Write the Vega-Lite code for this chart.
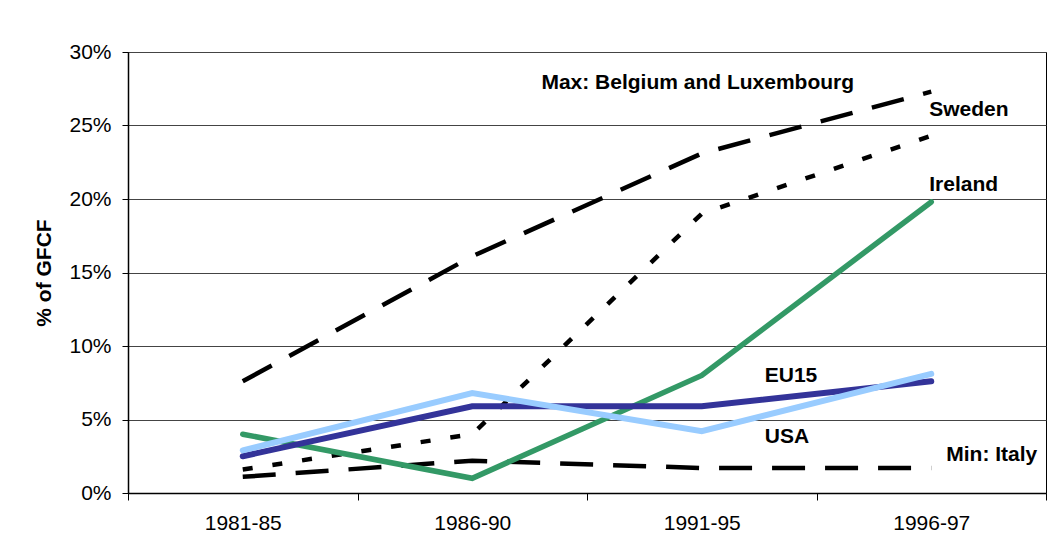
{
  "$schema": "https://vega.github.io/schema/vega-lite/v6.json",
  "width": 918,
  "height": 441,
  "autosize": {"type": "none"},
  "padding": {"left": 128, "top": 52, "right": 7, "bottom": 65},
  "background": "white",
  "config": {
    "font": "Liberation Sans",
    "view": {"stroke": "#000000", "strokeWidth": 1},
    "axis": {"labelFont": "Liberation Sans", "titleFont": "Liberation Sans"}
  },
  "datasets": {
    "series": [
      {"period": "1981-85", "series": "Belgium and Luxembourg", "value": 7.6},
      {"period": "1986-90", "series": "Belgium and Luxembourg", "value": 16.1},
      {"period": "1991-95", "series": "Belgium and Luxembourg", "value": 23.1},
      {"period": "1996-97", "series": "Belgium and Luxembourg", "value": 27.3},
      {"period": "1981-85", "series": "Sweden", "value": 1.6},
      {"period": "1986-90", "series": "Sweden", "value": 4.0},
      {"period": "1991-95", "series": "Sweden", "value": 19.0},
      {"period": "1996-97", "series": "Sweden", "value": 24.3},
      {"period": "1981-85", "series": "Italy", "value": 1.1},
      {"period": "1986-90", "series": "Italy", "value": 2.2},
      {"period": "1991-95", "series": "Italy", "value": 1.7},
      {"period": "1996-97", "series": "Italy", "value": 1.7},
      {"period": "1981-85", "series": "Ireland", "value": 4.0},
      {"period": "1986-90", "series": "Ireland", "value": 1.0},
      {"period": "1991-95", "series": "Ireland", "value": 8.0},
      {"period": "1996-97", "series": "Ireland", "value": 19.8},
      {"period": "1981-85", "series": "EU15", "value": 2.5},
      {"period": "1986-90", "series": "EU15", "value": 5.9},
      {"period": "1991-95", "series": "EU15", "value": 5.9},
      {"period": "1996-97", "series": "EU15", "value": 7.6},
      {"period": "1981-85", "series": "USA", "value": 2.9},
      {"period": "1986-90", "series": "USA", "value": 6.8},
      {"period": "1991-95", "series": "USA", "value": 4.2},
      {"period": "1996-97", "series": "USA", "value": 8.1}
    ],
    "labels": [
      {"period": "1991-95", "value": 27.9, "text": "Max: Belgium and Luxembourg", "pos": "center", "shift": -4},
      {"period": "1996-97", "value": 26.05, "text": "Sweden", "pos": "left", "shift": -2},
      {"period": "1996-97", "value": 20.95, "text": "Ireland", "pos": "left", "shift": -2},
      {"period": "1991-95", "value": 7.96, "text": "EU15", "pos": "left", "shift": 63},
      {"period": "1991-95", "value": 3.81, "text": "USA", "pos": "left", "shift": 63},
      {"period": "1996-97", "value": 2.59, "text": "Min: Italy", "pos": "left", "shift": 15}
    ]
  },
  "encoding": {
    "x": {
      "field": "period",
      "type": "nominal",
      "sort": ["1981-85", "1986-90", "1991-95", "1996-97"],
      "scale": {"paddingInner": 0, "paddingOuter": 0},
      "axis": {
        "title": null,
        "labelAngle": 0,
        "labelFontSize": 21,
        "labelColor": "#000000",
        "labelPadding": 12,
        "tickBand": "extent",
        "tickSize": 7,
        "tickColor": "#000000",
        "domainColor": "#000000",
        "domainWidth": 1.5,
        "grid": false
      }
    },
    "y": {
      "field": "value",
      "type": "quantitative",
      "scale": {"domain": [0, 30], "nice": false, "zero": true},
      "axis": {
        "title": "% of GFCF",
        "titleFontSize": 21,
        "titleFontWeight": "bold",
        "titleColor": "#000000",
        "titlePadding": 14,
        "values": [0, 5, 10, 15, 20, 25, 30],
        "labelExpr": "datum.value + '%'",
        "labelFontSize": 21,
        "labelColor": "#000000",
        "labelPadding": 11,
        "tickSize": 6,
        "tickColor": "#000000",
        "domainColor": "#000000",
        "domainWidth": 1.5,
        "grid": true,
        "gridColor": "#444444",
        "gridWidth": 1
      }
    }
  },
  "layer": [
    {
      "data": {"name": "series"},
      "transform": [{"filter": "datum.series === 'Belgium and Luxembourg' || datum.series === 'Italy'"}],
      "mark": {"type": "line", "color": "#000000", "strokeWidth": 4.5, "strokeDash": [33, 20], "strokeCap": "butt"},
      "encoding": {"detail": {"field": "series"}}
    },
    {
      "data": {"name": "series"},
      "transform": [{"filter": "datum.series === 'Sweden'"}],
      "mark": {"type": "line", "color": "#000000", "strokeWidth": 4.5, "strokeDash": [10, 20], "strokeCap": "butt"},
      "encoding": {}
    },
    {
      "data": {"name": "series"},
      "transform": [{"filter": "datum.series === 'Ireland'"}],
      "mark": {"type": "line", "color": "#339966", "strokeWidth": 5.5, "strokeCap": "round", "strokeJoin": "miter"},
      "encoding": {}
    },
    {
      "data": {"name": "series"},
      "transform": [{"filter": "datum.series === 'EU15'"}],
      "mark": {"type": "line", "color": "#333399", "strokeWidth": 6, "strokeCap": "round"},
      "encoding": {}
    },
    {
      "data": {"name": "series"},
      "transform": [{"filter": "datum.series === 'USA'"}],
      "mark": {"type": "line", "color": "#99CCFF", "strokeWidth": 6, "strokeCap": "round"},
      "encoding": {}
    },
    {
      "data": {"name": "labels"},
      "transform": [{"filter": "datum.pos === 'center'"}],
      "mark": {"type": "text", "fontSize": 21, "fontWeight": "bold", "color": "#000000", "align": "center", "baseline": "middle", "dx": -4},
      "encoding": {"text": {"field": "text"}}
    },
    {
      "data": {"name": "labels"},
      "transform": [{"filter": "datum.pos === 'left' && datum.shift < 0"}],
      "mark": {"type": "text", "fontSize": 21, "fontWeight": "bold", "color": "#000000", "align": "left", "baseline": "middle", "dx": -2},
      "encoding": {"text": {"field": "text"}}
    },
    {
      "data": {"name": "labels"},
      "transform": [{"filter": "datum.pos === 'left' && datum.shift === 63"}],
      "mark": {"type": "text", "fontSize": 21, "fontWeight": "bold", "color": "#000000", "align": "left", "baseline": "middle", "dx": 63},
      "encoding": {"text": {"field": "text"}}
    },
    {
      "data": {"name": "labels"},
      "transform": [{"filter": "datum.pos === 'left' && datum.shift === 15"}],
      "mark": {"type": "text", "fontSize": 21, "fontWeight": "bold", "color": "#000000", "align": "left", "baseline": "middle", "dx": 15},
      "encoding": {"text": {"field": "text"}}
    }
  ]
}
